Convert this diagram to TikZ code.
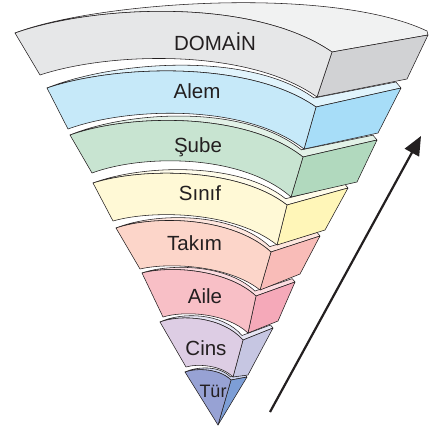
\documentclass[tikz,border=0pt]{standalone}
\usepackage{fontspec}
\setmainfont{Liberation Sans}
\usetikzlibrary{calc,arrows.meta}
\definecolor{ink}{HTML}{231F20}
\definecolor{Dfr}{HTML}{E6E7E8}\definecolor{Dtp}{HTML}{F1F2F2}\definecolor{Dsd}{HTML}{D1D2D4}
\definecolor{Afr}{HTML}{C6E9F9}\definecolor{Atp}{HTML}{E1F4FC}\definecolor{Asd}{HTML}{A7DDF8}
\definecolor{Sfr}{HTML}{C8E4D1}\definecolor{Stp}{HTML}{E2F1E7}\definecolor{Ssd}{HTML}{B1D9BE}
\definecolor{Nfr}{HTML}{FFF9D6}\definecolor{Ntp}{HTML}{FFFCEA}\definecolor{Nsd}{HTML}{FFF6B8}
\definecolor{Tfr}{HTML}{FCD5C9}\definecolor{Ttp}{HTML}{FEE6DE}\definecolor{Tsd}{HTML}{F9BCB8}
\definecolor{Ifr}{HTML}{F8BFC6}\definecolor{Itp}{HTML}{FCDCE0}\definecolor{Isd}{HTML}{F5A9B9}
\definecolor{Cfr}{HTML}{DDCDE4}\definecolor{Ctp}{HTML}{E6E5F3}\definecolor{Csd}{HTML}{C6C6E2}
\definecolor{Ufr}{HTML}{97A2D4}\definecolor{Utp}{HTML}{CFD5EE}\definecolor{Usd}{HTML}{7D9ED6}
% control points of an upward-bulging arc from L to R (offset given in canvas pt, + = up)
\newcommand\defarc[6]{%
 \path let \p1=(#2), \p2=(#3) in
   coordinate (#1a) at ($(\p1)!0.25!(\p2)+(0pt,{0.103*(\x2-\x1)*#4+#5*1pt})$)
   coordinate (#1b) at ($(\p1)!0.75!(\p2)+(0pt,{0.158*(\x2-\x1)*#4+#6*1pt})$);
}
% #1 prefix, #2..#9 : LTx LTy LBx LBy RTx RTy RBx RBy
\newcommand\setfront[9]{%
 \coordinate (#1-LT) at (#2,#3); \coordinate (#1-LB) at (#4,#5);
 \coordinate (#1-RT) at (#6,#7); \coordinate (#1-RB) at (#8,#9);
}
% #1 prefix, BTx BTy BBx BBy k fTop fBot
\newcommand\setside[8]{%
 \coordinate (#1-BT) at (#2,#3); \coordinate (#1-BB) at (#4,#5);
 \coordinate (#1-C) at ($(#1-RT)+({-2*#6},{-9*#6})$);
 \coordinate (#1-P) at ($(#1-BT)+({-5*#6},{-6*#6})$);
 \defarc{#1-F}{#1-LT}{#1-RT}{#7}{0}{0}
 \defarc{#1-K}{#1-LT}{#1-RT}{#7}{4*#6}{9*#6}
 \defarc{#1-B}{#1-LB}{#1-RB}{#8}{0}{0}
}
\newcommand\drawlayer[4]{%
 \path[edge,fill=#3] (#1-LT) .. controls (#1-Ka) and (#1-Kb) .. (#1-C) -- (#1-P) -- (#1-BT) -- (#1-RT) .. controls (#1-Fb) and (#1-Fa) .. (#1-LT) -- cycle;
 \path[edge,fill=#4] (#1-RT) -- (#1-BT) -- (#1-BB) -- (#1-RB) -- cycle;
 \path[edge,fill=#2] (#1-LT) .. controls (#1-Fa) and (#1-Fb) .. (#1-RT) -- (#1-RB) .. controls (#1-Bb) and (#1-Ba) .. (#1-LB) -- cycle;
}
\begin{document}
\begin{tikzpicture}[x=1pt,y=-1pt,
  edge/.style={draw=ink,line width=0.55pt,line join=round},
  lbl/.style={font=\fontsize{20.5}{24}\selectfont,text=ink,inner sep=0pt,anchor=base}]
\useasboundingbox (0,0) rectangle (429,429);
\fill[white] (0,0) rectangle (429,429);

% ---------- geometry ----------
\setfront{D}{15}{33}{40}{75}{332}{52}{317}{97}
\coordinate (D-BT) at (428,35); \coordinate (D-BB) at (407,79); \coordinate (D-P) at (427,31);
\defarc{D-F}{D-LT}{D-RT}{1.0}{0}{0}
\defarc{D-B}{D-LB}{D-RB}{1.0}{0}{0}
\coordinate (D-Ka) at (95,2); \coordinate (D-Kb) at (330,-15);

\setfront{A}{47}{88}{68}{129}{316}{107}{304}{149}
\setside{A}{401}{88}{378}{133}{1.0}{1.0}{1.1}
\setfront{S}{70}{135}{92}{173}{303}{157}{291}{197}
\setside{S}{377}{140}{357}{182}{0.8}{1.1}{1.2}
\setfront{N}{93}{183}{113}{221}{287}{205}{277}{245}
\setside{N}{348}{188}{325}{230}{0.7}{1.05}{1.05}
\setfront{T}{116}{228}{140}{269}{271}{252}{260}{290}
\setside{T}{320}{236}{300}{274}{0.6}{1.2}{1.0}
\setfront{I}{142}{273}{163}{317}{256}{296}{248}{333}
\setside{I}{295}{282}{278}{321}{0.55}{1.15}{1.2}
\setfront{C}{160}{322}{186}{367}{243}{340}{233}{377}
\setside{C}{273}{328}{248}{375}{0.5}{1.45}{1.25}
% Tur (pointed tip)
\coordinate (U-LT) at (185,372); \coordinate (U-RT) at (231,380);
\coordinate (U-BT) at (247,377); \coordinate (U-tip) at (218,425);
\coordinate (U-C) at ($(U-RT)+(-0.7,-3.2)$); \coordinate (U-P) at ($(U-BT)+(-1.7,-2.1)$);
\defarc{U-F}{U-LT}{U-RT}{1.3}{0}{0}
\defarc{U-K}{U-LT}{U-RT}{1.3}{1.4}{3.2}

% ---------- drawing (bottom layer first) ----------
\path[edge,fill=Utp] (U-LT) .. controls (U-Ka) and (U-Kb) .. (U-C) -- (U-P) -- (U-BT) -- (U-RT) .. controls (U-Fb) and (U-Fa) .. (U-LT) -- cycle;
\path[edge,fill=Usd] (U-RT) -- (U-BT) -- (U-tip) -- cycle;
\path[edge,fill=Ufr] (U-LT) .. controls (U-Fa) and (U-Fb) .. (U-RT) -- (U-tip) -- cycle;

\drawlayer{C}{Cfr}{Ctp}{Csd}
\drawlayer{I}{Ifr}{Itp}{Isd}
\drawlayer{T}{Tfr}{Ttp}{Tsd}
\drawlayer{N}{Nfr}{Ntp}{Nsd}
\drawlayer{S}{Sfr}{Stp}{Ssd}
\drawlayer{A}{Afr}{Atp}{Asd}

\path[edge,fill=Dtp] (D-LT) .. controls (D-Ka) and (D-Kb) .. (D-P) -- (D-BT) -- (D-RT) .. controls (D-Fb) and (D-Fa) .. (D-LT) -- cycle;
\path[edge,fill=Dsd] (D-RT) -- (D-BT) -- (D-BB) -- (D-RB) -- cycle;
\path[edge,fill=Dfr] (D-LT) .. controls (D-Fa) and (D-Fb) .. (D-RT) -- (D-RB) .. controls (D-Bb) and (D-Ba) .. (D-LB) -- cycle;

% ---------- labels ----------
\node[lbl] (tD) at (215,50) {DOMAİN};
\node[lbl] (tA) at (197,98) {Alem};
\node[lbl] (tS) at (198,152) {Şube};
\node[lbl] (tN) at (200,200) {Sınıf};
\node[lbl] (tT) at (194.5,250) {Takım};
\node[lbl] (tI) at (205,303) {Aile};
\node[lbl] (tC) at (206,355) {Cins};
\node[lbl,font=\fontsize{18}{21}\selectfont] (tU) at (213,397) {Tür};

% ---------- arrow ----------
\coordinate (ar0) at (270,412);
\coordinate (ar1) at (421,136);
\draw[draw=ink,line width=2.2pt,-{Triangle[length=19pt,width=16pt]}] (ar0) -- (ar1);
\end{tikzpicture}
\end{document}
